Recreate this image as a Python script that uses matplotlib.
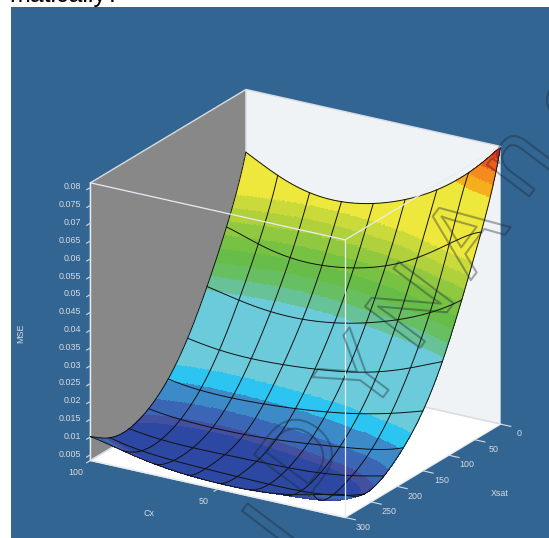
import numpy as np
import matplotlib
matplotlib.use("Agg")
import matplotlib.pyplot as plt
from matplotlib.colors import to_rgba
from matplotlib.patches import Rectangle
from matplotlib.transforms import Affine2D
import matplotlib.patheffects as pe

plt.rcParams['font.family'] = ['Liberation Sans', 'DejaVu Sans']

# grid lines of the surface
cx_values = [100, 87.5, 75, 62.5, 50, 37.5, 25, 12.5, 0]
xsat_values = [300, 262.5, 225, 187.5, 150, 112.5, 75, 37.5, 0]
# MSE read at every grid crossing; rows follow xsat_values, columns cx_values
mse_300 = [.0101, .0082, .0065, .0054, .0051, .0051, .0060, .0078, .0098]
mse_262 = [.0065, .0049, .0041, .0038, .0036, .0034, .0036, .0044, .0068]
mse_225 = [.0058, .0047, .0042, .0048, .0045, .0048, .0054, .0065, .0084]
mse_188 = [.0081, .0073, .0068, .0068, .0073, .0083, .0094, .0108, .0134]
mse_150 = [.0132, .0118, .0118, .0123, .0130, .0139, .0154, .0174, .0199]
mse_112 = [.0213, .0202, .0197, .0197, .0207, .0218, .0240, .0271, .0310]
mse_75 = [.0326, .0306, .0296, .0293, .0305, .0324, .0352, .0392, .0447]
mse_38 = [.0460, .0433, .0413, .0413, .0425, .0450, .0495, .0553, .0606]
mse_0 = [.0637, .0592, .0563, .0559, .0572, .0605, .0651, .0720, .0813]

z_min, z_max = 0.0034, 0.0813
z_ticks = [0.005, 0.01, 0.015, 0.02, 0.025, 0.03, 0.035, 0.04, 0.045, 0.05,
           0.055, 0.06, 0.065, 0.07, 0.075, 0.08]
z_tick_labels = ['0.005', '0.01', '0.015', '0.02', '0.025', '0.03', '0.035', '0.04',
                 '0.045', '0.05', '0.055', '0.06', '0.065', '0.07', '0.075', '0.08']
cx_ticks = [100, 50]
xsat_ticks = [0, 50, 100, 150, 200, 250, 300]

band_edges = [.0034, .0062, .0072, .0095, .0127, .0158, .0317, .0348, .0379, .0410, .0441,
              .0472, .0503, .0534, .0688, .0719, .0751, .0782, .0820]
band_colors = ['#2c48a2', '#434f9f', '#3a66b5', '#3c8ac8', '#2cc4f0', '#6ccbdb', '#68c298',
               '#68bf62', '#68bd48', '#78c243', '#90c840', '#b0d03c', '#c9da3a', '#efe83c',
               '#f5ae1c', '#f58a1e', '#f25a1c', '#e8321e']

W, H = 549, 538
BLUE = '#336592'

fig = plt.figure(figsize=(W / 100, H / 100), dpi=100, facecolor='white')
fig.patches.append(Rectangle((11 / W, 0), (W - 11) / W, (H - 7) / H, transform=fig.transFigure,
                             facecolor=BLUE, edgecolor='none', zorder=-5))
fig.text(9 / W, 1 - 2 / H, 'matically?', fontsize=18, color='black', va='baseline', ha='left')

# cube placement
side, cxp, cyp = 520, 288.5, 310.5
ax = fig.add_axes([(cxp - side / 2) / W, 1 - (cyp + side / 2) / H, side / W, side / H],
                  projection='3d', proj_type='ortho', computed_zorder=False)
ax.patch.set_alpha(0)
ax.view_init(elev=21.5, azim=-58.6)
ax.set_xlim(100, 0, view_margin=0)
ax.set_ylim(300, 0, view_margin=0)
ax.set_zlim(z_min, z_max, view_margin=0)
ax.set_box_aspect((1, 1, 1), zoom=0.965)
ax.grid(False)

Z = np.array([mse_300, mse_262, mse_225, mse_188, mse_150, mse_112, mse_75, mse_38, mse_0])
cx = np.array(cx_values, float)
xs = np.array(xsat_values, float)

# smooth the read crossings for painting the colour bands and curved grid lines
def basis(values, top, deg):
    return np.polynomial.legendre.legvander(2 * np.asarray(values) / top - 1, deg)

Bx, By = basis(cx, 100, 6), basis(xs, 300, 7)
coef = np.linalg.pinv(By) @ Z @ np.linalg.pinv(Bx).T
fine_cx = np.linspace(100, 0, 360)
fine_xs = np.linspace(300, 0, 360)
FZ = basis(fine_xs, 300, 7) @ coef @ basis(fine_cx, 100, 6).T
FZ = np.clip(FZ, z_min, z_max)
CX, XS = np.meshgrid(fine_cx, fine_xs)

mid = 0.25 * (FZ[:-1, :-1] + FZ[1:, :-1] + FZ[:-1, 1:] + FZ[1:, 1:])
idx = np.clip(np.searchsorted(band_edges, mid) - 1, 0, len(band_colors) - 1)
rgba = np.array([to_rgba(c) for c in band_colors])[idx]
ax.plot_surface(CX, XS, FZ, facecolors=rgba, rstride=1, cstride=1, shade=False,
                linewidth=0, antialiased=False, zorder=1)

# black grid on the surface
for v in cx:
    zz = basis(fine_xs, 300, 7) @ coef @ basis([v], 100, 6).T
    ax.plot(np.full_like(fine_xs, v), fine_xs, zz.ravel(), color='#111111', lw=0.7, zorder=2)
for v in xs:
    zz = basis([v], 300, 7) @ coef @ basis(fine_cx, 100, 6).T
    ax.plot(fine_cx, np.full_like(fine_cx, v), zz.ravel(), color='#111111', lw=0.7, zorder=2)

# front box edges over the surface
box = dict(color='#e8edf2', lw=0.9, zorder=3)
ax.plot([100, 0], [300, 300], [z_max, z_max], **box)
ax.plot([0, 0], [300, 0], [z_max, z_max], **box)
ax.plot([0, 0], [300, 300], [z_min, z_max], **box)

for axis, col in ((ax.xaxis, '#888888'), (ax.yaxis, '#f0f3f5'), (ax.zaxis, '#ffffff')):
    axis.set_pane_color(to_rgba(col))
    axis.pane.set_edgecolor('#d8dde2')
    axis.line.set_color('#e8edf2')
    axis.line.set_linewidth(0.9)

ax.set_xticks(cx_ticks)
ax.set_yticks(xsat_ticks)
ax.set_zticks(z_ticks)
ax.set_zticklabels(z_tick_labels)
ax.zaxis.set_ticks_position('upper')
ax.zaxis._get_tickdir = lambda position: 1
ax.tick_params(colors='#d5dce3', labelsize=6.4, width=0.7, pad=0)
# the reversed limits flip the sign of the outward direction
for axis, out in ((ax.xaxis, -0.3), (ax.yaxis, -0.5), (ax.zaxis, -0.3)):
    axis._axinfo['tick']['inward_factor'] = 0
    axis._axinfo['tick']['outward_factor'] = out

# nudge tick labels in pixels (Axis3D resets transforms on each tick query, so pin them)
for axis, dx, dy in ((ax.xaxis, -8, 7.5), (ax.yaxis, 8, 8.5), (ax.zaxis, 8, 6.5)):
    for tk in axis.get_major_ticks():
        tk.label1.set_transform(ax.transData + Affine2D().translate(dx, dy))
        tk.label1.set_transform = lambda tr: None
for t in ax.get_zticklabels():
    t.set_ha('right')

lab = dict(color='#d5dce3', fontsize=6.4, ha='center', va='center')
fig.text(149 / W, 1 - 513 / H, 'Cx', **lab)
fig.text(500 / W, 1 - 493 / H, 'Xsat', **lab)
fig.text(21 / W, 1 - 333 / H, 'MSE', rotation=90, **lab)

# outlined watermark, letter by letter along its slanted baseline
wm_letters = ['I', 'D', 'Y', 'N', 'A', 'n', 'c']
wm_x = [279, 305, 365, 416, 470, 521, 573]
wm_y = [533, 458, 378, 310, 238, 164, 105]
for ch, x, y in zip(wm_letters, wm_x, wm_y):
    fig.text(x / W, 1 - y / H, ch, fontsize=72, rotation=53,
             rotation_mode='anchor', ha='center', va='center', color=(0, 0, 0, 0), zorder=10,
             path_effects=[pe.Stroke(linewidth=1.5, foreground=(0.1, 0.15, 0.2, 0.38))])

fig.savefig('out.png', dpi=100)
